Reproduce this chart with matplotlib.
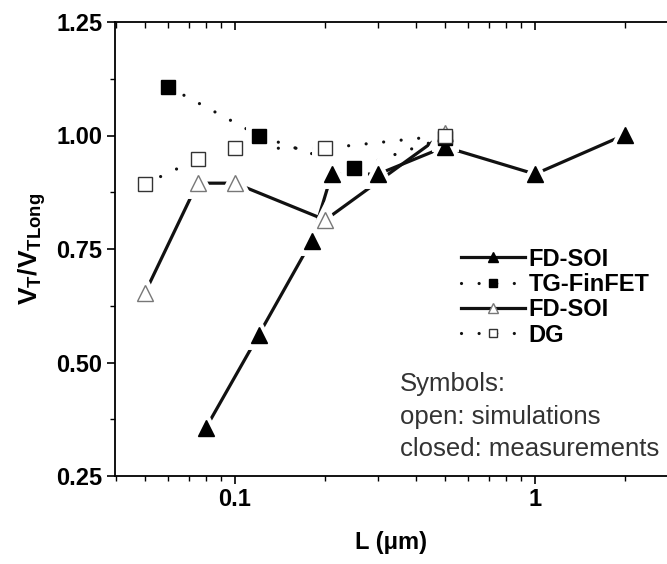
import matplotlib
matplotlib.use("Agg")
import matplotlib.pyplot as plt
from matplotlib.ticker import LogLocator, NullFormatter, FixedLocator, FixedFormatter

plt.rcParams['font.family'] = ['Liberation Sans', 'DejaVu Sans']
plt.rcParams['mathtext.fontset'] = 'custom'
plt.rcParams['mathtext.rm'] = 'Liberation Sans'
plt.rcParams['mathtext.bf'] = 'Liberation Sans:bold'

# FD-SOI measurements (closed triangles)
L_fdsoi_meas = [0.08, 0.12, 0.18, 0.21, 0.30, 0.50, 1.0, 2.0]
vt_fdsoi_meas = [0.356, 0.561, 0.768, 0.915, 0.915, 0.975, 0.915, 1.002]

# TG-FinFET measurements (closed squares)
L_tg_meas = [0.06, 0.12, 0.25, 0.50]
vt_tg_meas = [1.107, 1.000, 0.928, 0.995]

# FD-SOI simulations (open triangles)
L_fdsoi_sim = [0.05, 0.075, 0.10, 0.20, 0.50]
vt_fdsoi_sim = [0.652, 0.895, 0.895, 0.814, 1.005]

# DG simulations (open squares)
L_dg_sim = [0.05, 0.075, 0.10, 0.20, 0.50]
vt_dg_sim = [0.893, 0.948, 0.972, 0.972, 1.000]

y_ticks = [0.25, 0.50, 0.75, 1.00, 1.25]
y_ticklabels = ['0.25', '0.50', '0.75', '1.00', '1.25']

W, H = 667, 564
fig = plt.figure(figsize=(W / 100, H / 100), dpi=100)
ax = fig.add_axes([115 / W, (H - 476) / H, (W - 115) / W, (476 - 22) / H])

dot_style = (0, (0.01, 5.5))
series = [
    # x, y, marker, face, edge, ms, linestyle, label
    (L_fdsoi_meas, vt_fdsoi_meas, '^', 'black', 'black', 11, '-', 'FD-SOI'),
    (L_tg_meas, vt_tg_meas, 's', 'black', 'black', 10, dot_style, 'TG-FinFET'),
    (L_fdsoi_sim, vt_fdsoi_sim, '^', 'white', '#777777', 12, '-', 'FD-SOI'),
    (L_dg_sim, vt_dg_sim, 's', 'white', '#333333', 10, dot_style, 'DG'),
]

# lines first
for x, y, m, fc, ec, ms, ls, lab in series:
    ax.plot(x, y, color='#111111', lw=2.3, linestyle=ls, dash_capstyle='round',
            solid_capstyle='butt', zorder=2)
# white masks to give the gaps around symbols
for x, y, m, fc, ec, ms, ls, lab in series:
    ax.plot(x, y, linestyle='none', marker=m, ms=ms + 5, mfc='white', mec='white',
            mew=5, zorder=3)
# symbols
for x, y, m, fc, ec, ms, ls, lab in series:
    ax.plot(x, y, linestyle='none', marker=m, ms=ms, mfc=fc, mec=ec, mew=1.0,
            zorder=4)

# legend proxies
handles = []
for x, y, m, fc, ec, ms, ls, lab in series:
    h, = ax.plot([], [], color='#111111', lw=2.3, linestyle=ls,
                 dash_capstyle='round', marker=m, ms=ms, mfc=fc, mec=ec, mew=1.0)
    handles.append(h)
leg = ax.legend(handles, [s[7] for s in series], loc='upper left',
                bbox_to_anchor=(0.627, 0.503), frameon=False, markerscale=0.6,
                handlelength=2.7, handletextpad=0.15, labelspacing=0.1,
                borderpad=0, borderaxespad=0,
                prop={'weight': 'bold', 'size': 17})

fig.text(400 / W, 1 - 372 / H, 'Symbols:\nopen: simulations\nclosed: measurements',
         fontsize=18.5, color='#333333', va='top', ha='left', linespacing=1.45)

ax.set_xscale('log')
ax.set_xlim(10 ** -1.4, 10 ** 0.44)
ax.set_ylim(0.25, 1.25)
ax.yaxis.set_major_locator(FixedLocator(y_ticks))
ax.yaxis.set_major_formatter(FixedFormatter(y_ticklabels))
ax.yaxis.set_minor_locator(FixedLocator([0.375, 0.625, 0.875, 1.125]))
ax.xaxis.set_major_locator(FixedLocator([0.01, 0.1, 1, 10]))
ax.xaxis.set_major_formatter(FixedFormatter(['0.01', '0.1', '1', '10']))
ax.xaxis.set_minor_locator(LogLocator(base=10, subs=range(2, 10), numticks=10))
ax.xaxis.set_minor_formatter(NullFormatter())

ax.spines['right'].set_visible(False)
for s in ['left', 'bottom', 'top']:
    ax.spines[s].set_linewidth(1.3)
ax.tick_params(which='major', direction='out', length=6, width=1.2,
               labelsize=17, pad=3)
ax.tick_params(which='minor', direction='out', length=3.5, width=1.0)
for lab in ax.get_xticklabels() + ax.get_yticklabels():
    lab.set_fontweight('bold')

# top axis: inward ticks, no labels
ax2 = ax.twiny()
ax2.set_xscale('log')
ax2.set_xlim(ax.get_xlim())
ax2.xaxis.set_major_locator(FixedLocator([0.01, 0.1, 1, 10]))
ax2.xaxis.set_minor_locator(LogLocator(base=10, subs=range(2, 10), numticks=10))
ax2.tick_params(which='major', direction='in', length=6, width=1.2, labeltop=False)
ax2.tick_params(which='minor', direction='in', length=4, width=1.0)
for s in ax2.spines.values():
    s.set_visible(False)

ax.set_xlabel('L (μm)', fontsize=17, fontweight='bold', labelpad=14)
ax.set_ylabel(r'$\mathbf{V_T/V_{TLong}}$', fontsize=19, labelpad=6)

fig.savefig('out.png', dpi=100)
